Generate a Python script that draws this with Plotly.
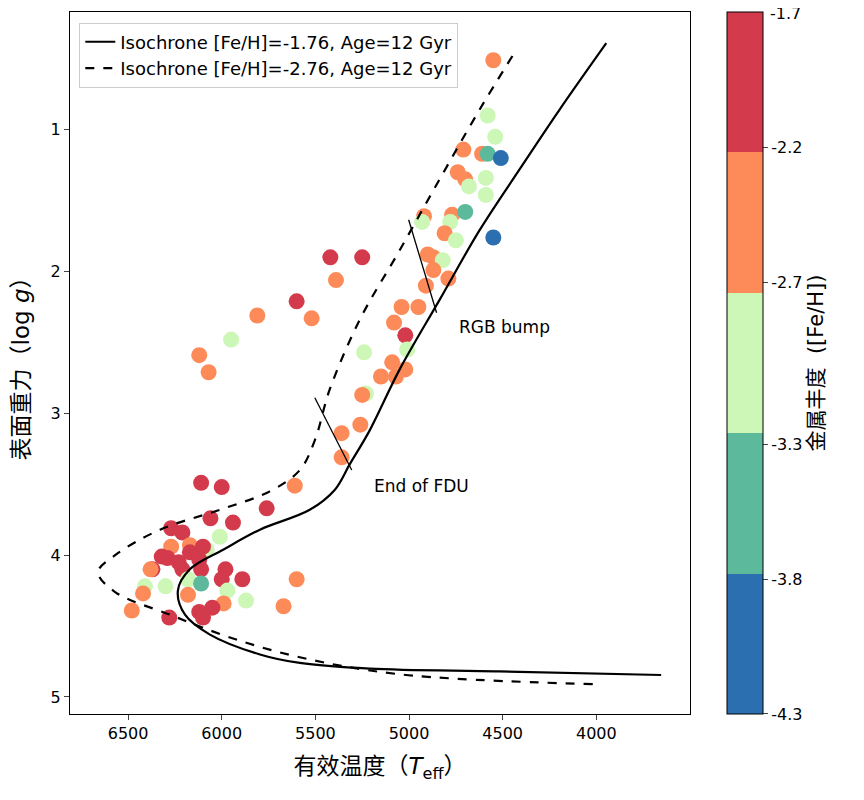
import plotly.graph_objects as go

# isochrones (Teff, log g)
iso1_teff = [3947, 4197, 4410, 4624, 4837, 5050, 5210, 5317, 5397, 5530, 5796, 5990, 6170, 6234,
             6196, 6063, 5796, 5583, 5210, 4517, 3654]
iso1_logg = [0.39, 0.86, 1.28, 1.71, 2.20, 2.69, 3.12, 3.36, 3.54, 3.68, 3.82, 3.96, 4.10, 4.25,
             4.42, 4.56, 4.70, 4.76, 4.80, 4.82, 4.845]
iso2_teff = [4448, 4624, 4837, 5050, 5263, 5423, 5503, 5583, 5743, 6010, 6329, 6569, 6660, 6569,
             6276, 5956, 5583, 5050, 4011]
iso2_logg = [0.48, 0.86, 1.35, 1.85, 2.34, 2.83, 3.19, 3.40, 3.55, 3.68, 3.82, 4.00, 4.12, 4.26,
             4.42, 4.58, 4.72, 4.84, 4.91]

# stars
star_teff = [4550, 4580, 4540, 4710, 4610, 4580, 4510, 4590, 4740, 4700, 4680, 4590, 4920, 4930,
             4770, 4700, 4780, 4810, 4750, 4550, 4900, 4870, 4820, 4870, 4790, 4910, 4950, 5040,
             5080, 5020, 5010, 5240, 5090, 5020, 5070, 5150, 5230, 5250, 5260, 5360, 5360,
             5420, 5250, 5390, 5600, 5520, 5810, 5950, 6120, 6070, 5610, 5760,
             6110, 6000, 6060, 5940, 6270, 6210, 6010, 6270, 6170, 6170, 6080, 6100, 6320, 6290,
             6230, 6120, 6370, 6380, 6210, 6110, 5980, 6180, 6110, 6000, 5890, 5600, 6410, 6420,
             6300, 5970, 6180, 5870, 5990, 5670, 6480, 6280, 6120, 6050, 6100]
star_logg = [0.51, 0.90, 1.05, 1.14, 1.17, 1.17, 1.20, 1.34, 1.30, 1.35, 1.40, 1.46, 1.61, 1.65,
             1.60, 1.58, 1.65, 1.73, 1.78, 1.76, 1.88, 1.90, 1.92, 1.99, 2.05, 2.10, 2.25, 2.25,
             2.36, 2.45, 2.55, 2.57, 2.64, 2.69, 2.74, 2.74, 2.86, 2.87, 3.08, 3.14, 3.31,
             1.90, 1.90, 2.06, 2.21, 2.33, 2.31, 2.48, 2.59, 2.71, 3.51, 3.67,
             3.49, 3.52, 3.74, 3.77, 3.81, 3.84, 3.87, 3.94, 3.93, 3.98, 3.96, 3.94, 4.01, 4.02,
             4.05, 4.03, 4.10, 4.10, 4.10, 4.10, 4.10, 4.17, 4.20, 4.17, 4.17, 4.17, 4.22, 4.27,
             4.22, 4.25, 4.28, 4.32, 4.34, 4.36, 4.39, 4.44, 4.40, 4.37, 4.44]
# R red, O orange, G light green, T teal, B blue
star_cls = "OGGOOTBGOOGGOGOTGOGBOOGOOOOOORGGOOOOGOOOO" + "RROROOGOOOR" + \
           "RRRRRRGOORGRRRRRRORRRGTRROGOGGOGOOORRRR"
cls_feh = {"B": -4.05, "T": -3.55, "G": -3.0, "O": -2.45, "R": -1.95}
star_feh = [cls_feh[c] for c in star_cls]

cb_ticks = [-4.3, -3.8, -3.3, -2.7, -2.2]
cb_labels = ["-4.3", "-3.8", "-3.3", "-2.7", "-2.2"]
cb_top = "-1.7"
cb_colors = ["#2b6fb0", "#5cb99b", "#ccf7b6", "#fc8b59", "#d33a4c"]
scale = []
for i, c in enumerate(cb_colors):
    scale += [[i / 5, c], [(i + 1) / 5, c]]

fig = go.Figure()
fig.add_trace(go.Scatter(
    x=star_teff, y=star_logg, mode="markers", showlegend=False,
    marker=dict(size=16, color=star_feh, colorscale=scale, cmin=-4.3, cmax=-1.7,
                colorbar=dict(x=1.06, xanchor="left", xpad=0, ypad=0, y=0.5, len=1, thickness=36,
                              outlinecolor="black", outlinewidth=1,
                              tickvals=[cb_ticks[0] + 1e-4] + cb_ticks[1:],
                              ticktext=cb_labels,
                              ticks="outside", tickfont=dict(size=16),
                              title=dict(text="金属丰度  ([Fe/H])", side="right",
                                         font=dict(size=21)))),
))
fig.add_trace(go.Scatter(x=iso1_teff, y=iso1_logg, mode="lines", line=dict(color="black", width=2.2),
                         line_shape="spline", name="Isochrone [Fe/H]=-1.76, Age=12 Gyr"))
fig.add_trace(go.Scatter(x=iso2_teff, y=iso2_logg, mode="lines",
                         line=dict(color="black", width=2.2, dash="dash"),
                         line_shape="spline", name="Isochrone [Fe/H]=-2.76, Age=12 Gyr"))
# bump markers
fig.add_trace(go.Scatter(x=[5002, 4853], y=[1.635, 2.291], mode="lines", showlegend=False,
                         line=dict(color="black", width=1.3)))
fig.add_trace(go.Scatter(x=[5503, 5306], y=[2.89, 3.40], mode="lines", showlegend=False,
                         line=dict(color="black", width=1.3)))

fig.add_annotation(x=4746, y=2.39, text="RGB bump", showarrow=False, xanchor="left",
                   font=dict(size=17, color="black"))
fig.add_annotation(x=5199, y=3.51, text="End of FDU", showarrow=False, xanchor="left",
                   font=dict(size=17, color="black"))
# top colorbar label
fig.add_annotation(x=1.128, y=1, xref="paper", yref="paper", text=cb_top, showarrow=False,
                   xanchor="left", yanchor="top", yshift=9, borderpad=0,
                   font=dict(size=16, color="black"))

axis = dict(showline=True, linecolor="black", mirror=True, ticks="outside", showgrid=False,
            zeroline=False, automargin=False, tickfont=dict(size=16, color="black"))
fig.update_layout(
    width=864, height=800, plot_bgcolor="white", paper_bgcolor="white",
    margin=dict(l=62, r=182, t=4, b=94, autoexpand=False),
    font=dict(family="DejaVu Sans, Noto Sans CJK SC", color="black"),
    xaxis=dict(axis, range=[6810, 3500], tickvals=[6500, 6000, 5500, 5000, 4500, 4000],
               title=dict(text="有效温度（<i>T</i><sub>eff</sub>）", font=dict(size=23))),
    yaxis=dict(axis, range=[5.12, 0.17], tickvals=[1, 2, 3, 4, 5],
               title=dict(text="表面重力（log <i>g</i>）", font=dict(size=23))),
    legend=dict(x=0.015, y=0.985, xanchor="left", yanchor="top", bgcolor="rgba(255,255,255,0.8)",
                bordercolor="#ccc", borderwidth=1, font=dict(size=18)),
)
fig.write_html("out.html")
